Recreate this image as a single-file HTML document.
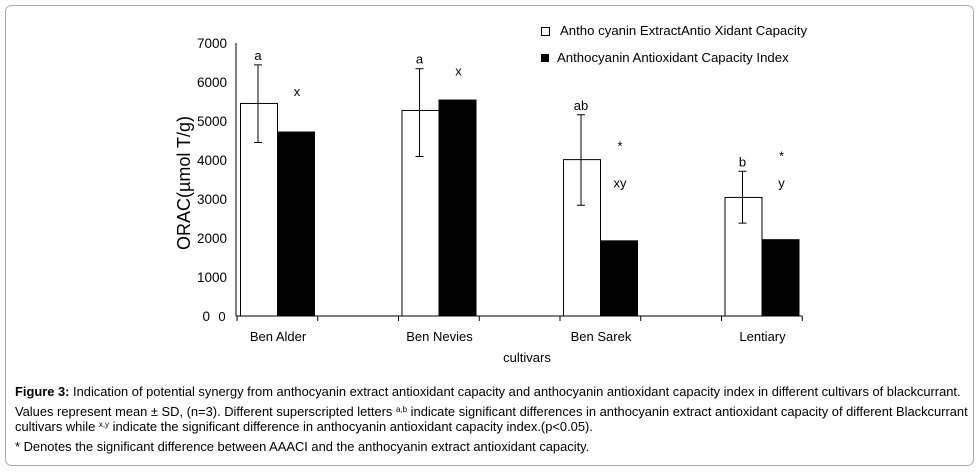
<!DOCTYPE html>
<html><head><meta charset="utf-8"><style>
body{margin:0;background:#fff;width:978px;height:471px;overflow:hidden;font-family:"Liberation Sans",Arial,sans-serif}
svg text{font-family:"Liberation Sans",Arial,sans-serif}
</style></head><body>
<svg width="978" height="471">
<rect x="5.5" y="5.5" width="968" height="460" rx="6" fill="#fff" stroke="#aaa"/>
<g id="chart"></g>
<text x="185" y="183" font-size="18" text-anchor="middle" transform="rotate(-90 185 183)" dominant-baseline="middle">ORAC(µmol T/g)</text>
<text x="527" y="362" font-size="13" text-anchor="middle">cultivars</text>
<g>
<rect x="541.5" y="27.5" width="8" height="8" fill="#fff" stroke="#000"/>
<text x="560" y="35" font-size="13.2">Antho cyanin ExtractAntio Xidant Capacity</text>
<rect x="541" y="54" width="8" height="8" fill="#000"/>
<text x="557" y="62" font-size="13.2">Anthocyanin Antioxidant Capacity Index</text>
</g>
<g font-size="12.9">
<text x="15" y="396"><tspan font-weight="bold">Figure 3:</tspan> Indication of potential synergy from anthocyanin extract antioxidant capacity and anthocyanin antioxidant capacity index in different cultivars of blackcurrant.</text>
<text x="15" y="416">Values represent mean ± SD, (n=3). Different superscripted letters <tspan font-size="8" dy="-4">a,b</tspan><tspan dy="4"> indicate significant differences  in anthocyanin extract antioxidant capacity of different Blackcurrant</tspan></text>
<text x="15" y="431">cultivars while <tspan font-size="8" dy="-4">x,y</tspan><tspan dy="4"> indicate the significant difference in anthocyanin antioxidant capacity index.(p&lt;0.05).</tspan></text>
<text x="15" y="451">* Denotes the significant difference between AAACI and the anthocyanin extract antioxidant capacity.</text>
</g>
</svg>
<script>
const categories=["Ben Alder","Ben Nevies","Ben Sarek","Lentiary"];
const extractValues=[5450,5270,4010,3040];
const extractErrHigh=[6440,6340,5160,3710];
const extractErrLow=[4450,4090,2840,2380];
const indexValues=[4730,5550,1940,1970];
const extractLetters=["a","a","ab","b"];
const indexLetters=["x","x","xy","y"];
const indexLetterLevel=[5750,6265,3400,3400];
const starLevel=[null,null,4420,4170];
const yTicks=[0,1000,2000,3000,4000,5000,6000,7000];
const NS="http://www.w3.org/2000/svg";
const g=document.getElementById('chart');
const x0=236,y0=316,yTop=43,band=161.5,bw=37;
const y=v=>y0-(v/7000)*(y0-yTop);
const bx=i=>x0+4+i*band;
function mk(t,a,p){const e=document.createElementNS(NS,t);for(const k in a)e.setAttribute(k,a[k]);(p||g).appendChild(e);return e;}
let e=mk('line',{x1:x0,y1:yTop,x2:x0,y2:y0,stroke:'#000'});


e=mk('line',{x1:x0,y1:y0,x2:x0+3.5*band+1,y2:y0,stroke:'#000'});


yTicks.forEach(t=>{
 const l=mk('text',{x:t===0?210:227,y:y(t)+5,'font-size':13.5,'text-anchor':'end'});l.textContent=t;
 
 
});
e=mk('text',{x:222,y:y(0)+5,'font-size':13,'text-anchor':'middle'});e.textContent='0';


for(let i=0;i<=7;i++){
 const tx=x0+1+i*band/2;
 e=mk('line',{x1:tx,y1:y0,x2:tx,y2:y0+5,stroke:'#000'});
 
 
}
categories.forEach((c,i)=>{
 const b=bx(i);
 let r=mk('rect',{x:b+0.5,y:y(extractValues[i]),width:bw,height:y0-y(extractValues[i]),fill:'#fff',stroke:'#000'});
 
 
 r=mk('rect',{x:b+bw,y:y(indexValues[i]),width:bw+1,height:y0-y(indexValues[i]),fill:'#000'});
 
 
 const ex=b+18;
 r=mk('path',{d:`M${ex},${y(extractErrHigh[i])}V${y(extractErrLow[i])}M${ex-4},${y(extractErrHigh[i])}H${ex+4}M${ex-4},${y(extractErrLow[i])}H${ex+4}`,stroke:'#000',fill:'none'});
 
 
 let t=mk('text',{x:ex,y:y(extractErrHigh[i])-5,'font-size':13,'text-anchor':'middle'});t.textContent=extractLetters[i];
 
 
 const ix=b+bw+20;
 t=mk('text',{x:ix,y:y(indexLetterLevel[i])+4,'font-size':13,'text-anchor':'middle'});t.textContent=indexLetters[i];
 
 
 if(starLevel[i]!==null){
  t=mk('text',{x:ix,y:y(starLevel[i])+7,'font-size':13,'text-anchor':'middle'});t.textContent='*';
  
  
 }
 t=mk('text',{x:b+38,y:341,'font-size':13,'text-anchor':'middle'});t.textContent=c;
 
 
});
</script>
</body></html>
